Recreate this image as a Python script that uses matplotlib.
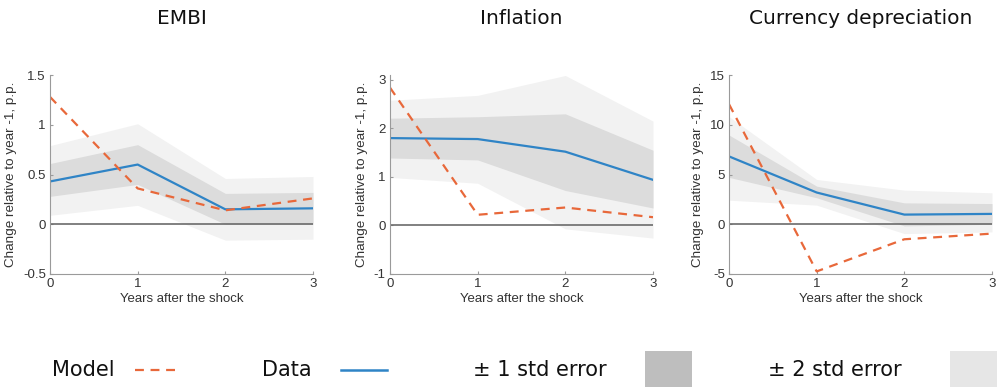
import matplotlib
matplotlib.use('Agg')
from matplotlib import pyplot as plt
from matplotlib.patches import Rectangle
from matplotlib.lines import Line2D

years = [0, 1, 2, 3]
titles = ['EMBI', 'Inflation', 'Currency depreciation']

data = [
    [0.43, 0.60, 0.15, 0.16],
    [1.80, 1.78, 1.52, 0.94],
    [6.82, 3.19, 0.97, 1.04],
]
model = [
    [1.28, 0.36, 0.14, 0.26],
    [2.84, 0.22, 0.37, 0.17],
    [12.07, -4.74, -1.51, -0.94],
]
se1_hi = [
    [0.61, 0.80, 0.31, 0.32],
    [2.21, 2.24, 2.30, 1.55],
    [8.97, 3.83, 2.15, 2.08],
]
se1_lo = [
    [0.28, 0.40, 0.00, 0.00],
    [1.39, 1.35, 0.72, 0.36],
    [4.71, 2.66, -0.17, 0.00],
]
se2_hi = [
    [0.79, 1.01, 0.46, 0.48],
    [2.58, 2.68, 3.09, 2.15],
    [10.82, 4.50, 3.43, 3.16],
]
se2_lo = [
    [0.09, 0.19, -0.16, -0.15],
    [0.99, 0.87, -0.07, -0.26],
    [2.42, 1.92, -0.94, -0.77],
]
ylims = [(-0.5, 1.5), (-1, 3.1), (-5, 15)]
yticks = [[-0.5, 0, 0.5, 1, 1.5], [-1, 0, 1, 2, 3], [-5, 0, 5, 10, 15]]
ytick_labels = [['-0.5', '0', '0.5', '1', '1.5'], ['-1', '0', '1', '2', '3'],
                ['-5', '0', '5', '10', '15']]

BLUE = '#2F84C6'
ORANGE = '#E8683A'
DARK = '#DCDCDC'
LIGHT = '#F2F2F2'

fig = plt.figure(figsize=(9.97, 3.87), dpi=100)
W, H = 997, 387
lefts = [50, 390, 729]
for i in range(3):
    ax = fig.add_axes([lefts[i] / W, 1 - 274 / H, 263 / W, 199 / H])
    ax.fill_between(years, se2_lo[i], se2_hi[i], color=LIGHT, lw=0)
    ax.fill_between(years, se1_lo[i], se1_hi[i], color=DARK, lw=0)
    ax.axhline(0, color='#6b6b6b', lw=1.2)
    ax.plot(years, data[i], color=BLUE, lw=1.6)
    ax.plot(years, model[i], color=ORANGE, lw=1.6, dashes=(4, 3))
    ax.set_xlim(0, 3)
    ax.set_ylim(*ylims[i])
    ax.set_xticks(years)
    ax.set_yticks(yticks[i])
    ax.set_yticklabels(ytick_labels[i])
    for s in ['top', 'right']:
        ax.spines[s].set_visible(False)
    for s in ['left', 'bottom']:
        ax.spines[s].set_color('#9a9a9a')
        ax.spines[s].set_linewidth(0.8)
    ax.tick_params(direction='in', length=2, color='#9a9a9a', labelsize=9.5,
                   labelcolor='#333333', pad=3)
    for lab in ax.get_xticklabels() + ax.get_yticklabels():
        lab.set_family('Liberation Sans')
    ax.set_xlabel('Years after the shock', family='Liberation Sans',
                  fontsize=9.5, color='#333333', labelpad=2)
    ax.set_ylabel('Change relative to year -1, p.p.', family='Liberation Sans',
                  fontsize=9.7, color='#333333', labelpad=4)
    ax.set_title(titles[i], fontsize=14.5, family='DejaVu Sans', pad=37,
                 color='#111111')

# legend drawn along the bottom
lg = fig.add_axes([0, 0, 1, 1])
lg.set_xlim(0, W)
lg.set_ylim(H, 0)
lg.axis('off')
ty = 370
lg.text(52, ty, 'Model', fontsize=15, va='center', color='#111111')
lg.add_line(Line2D([135, 176], [ty, ty], color=ORANGE, lw=1.6, dashes=(4, 3)))
lg.text(262, ty, 'Data', fontsize=15, va='center', color='#111111')
lg.add_line(Line2D([341, 387], [ty, ty], color=BLUE, lw=1.8))
lg.text(473, ty, '± 1 std error', fontsize=15, va='center', color='#111111')
lg.add_patch(Rectangle((645, 351), 47, 36, color='#BEBEBE', lw=0))
lg.text(768, ty, '± 2 std error', fontsize=15, va='center', color='#111111')
lg.add_patch(Rectangle((950, 351), 47, 36, color='#E6E6E6', lw=0))

fig.savefig('out.png', dpi=100)
plt.close(fig)
